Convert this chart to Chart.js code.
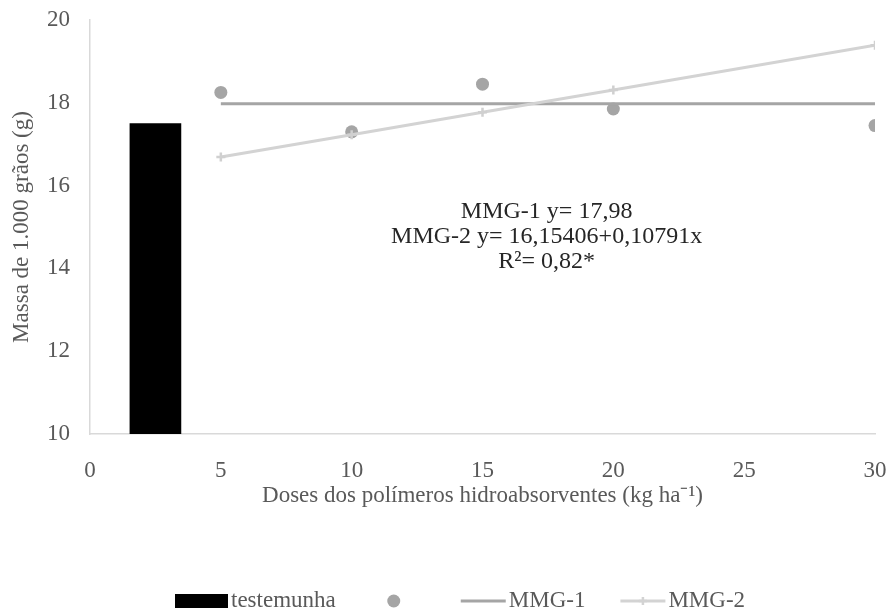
<!DOCTYPE html>
<html><head><meta charset="utf-8">
<style>html,body{margin:0;padding:0;background:#fff;}#wrap{width:888px;height:612px;}</style>
<script src="https://cdn.jsdelivr.net/npm/chart.js@4/dist/chart.umd.min.js"></script>
</head><body><div id="wrap"><canvas id="c" width="888" height="612"></canvas></div>
<script>
const xTicks = [0, 5, 10, 15, 20, 25, 30];
const yTicks = [10, 12, 14, 16, 18, 20];
const controlDose = [2.5];
const controlMass = [17.5];
const doses = [5, 10, 15, 20, 30];
const observedMass = [18.25, 17.3, 18.45, 17.85, 17.45];
const mmg1Dose = [5, 30];
const mmg1Mass = [17.98, 17.98];
const mmg2Dose = [5, 10, 15, 20, 30];
const mmg2Mass = [16.69, 17.23, 17.77, 18.31, 19.39];
const seriesLabels = ['testemunha', '', 'MMG-1', 'MMG-2'];
const equationLines = ['MMG-1 y= 17,98', 'MMG-2 y= 16,15406+0,10791x', 'R²= 0,82*'];
const xTitle = 'Doses dos polímeros hidroabsorventes (kg ha⁻¹)';
const yTitle = 'Massa de 1.000 grãos (g)';

const FONT = "'Liberation Serif', 'Times New Roman', serif";
const TEXT = '#595959';
const pts = (xs, ys) => xs.map((x, i) => ({x: x, y: ys[i]}));

const equationPlugin = {
  id: 'equation',
  afterDatasetsDraw(chart) {
    const ctx = chart.ctx, xs = chart.scales.x, ys = chart.scales.y;
    const cx = xs.getPixelForValue(17.45);
    const cy = ys.getPixelForValue(15.36);
    ctx.save();
    ctx.font = '24px ' + FONT;
    ctx.fillStyle = '#262626';
    ctx.textAlign = 'center';
    ctx.textBaseline = 'middle';
    equationLines.forEach((t, i) => ctx.fillText(t, cx, cy + i * 25));
    ctx.restore();
  }
};

const legendPlugin = {
  id: 'customLegend',
  afterDraw(chart) {
    const ctx = chart.ctx, ds = chart.data.datasets;
    const cy = 601;
    let x = 175;
    ctx.save();
    ctx.font = '23px ' + FONT;
    ctx.textBaseline = 'middle';
    ctx.textAlign = 'left';
    ctx.fillStyle = ds[0].backgroundColor;
    ctx.fillRect(x, cy - 7, 53, 14);
    x += 56;
    ctx.fillStyle = TEXT;
    ctx.fillText(ds[0].label, x, cy);
    x += ctx.measureText(ds[0].label).width + 58;
    ctx.fillStyle = ds[1].backgroundColor;
    ctx.beginPath(); ctx.arc(x, cy, 6.5, 0, Math.PI * 2); ctx.fill();
    x += 67;
    ctx.strokeStyle = ds[2].borderColor; ctx.lineWidth = 3;
    ctx.beginPath(); ctx.moveTo(x, cy); ctx.lineTo(x + 45, cy); ctx.stroke();
    x += 48;
    ctx.fillStyle = TEXT;
    ctx.fillText(ds[2].label, x, cy);
    x += ctx.measureText(ds[2].label).width + 35;
    ctx.strokeStyle = ds[3].borderColor; ctx.lineWidth = 3;
    ctx.beginPath(); ctx.moveTo(x, cy); ctx.lineTo(x + 45, cy); ctx.stroke();
    ctx.lineWidth = 2.5;
    ctx.beginPath();
    ctx.moveTo(x + 22.5 - 4, cy); ctx.lineTo(x + 22.5 + 4, cy);
    ctx.moveTo(x + 22.5, cy - 4); ctx.lineTo(x + 22.5, cy + 4);
    ctx.stroke();
    x += 48;
    ctx.fillStyle = TEXT;
    ctx.fillText(ds[3].label, x, cy);
    ctx.restore();
  }
};

new Chart(document.getElementById('c'), {
  type: 'bar',
  data: {
    datasets: [
      { type: 'bar', label: seriesLabels[0], data: pts(controlDose, controlMass),
        backgroundColor: '#000000', borderWidth: 0, barThickness: 51, order: 4 },
      { type: 'scatter', label: seriesLabels[1], data: pts(doses, observedMass),
        backgroundColor: '#a5a5a5', borderColor: '#a5a5a5', pointRadius: 6.5, borderWidth: 0, order: 3 },
      { type: 'line', label: seriesLabels[2], data: pts(mmg1Dose, mmg1Mass),
        borderColor: '#a5a5a5', backgroundColor: '#a5a5a5', borderWidth: 3, pointRadius: 0, fill: false, order: 2 },
      { type: 'line', label: seriesLabels[3], data: pts(mmg2Dose, mmg2Mass),
        borderColor: '#d3d3d3', backgroundColor: '#d3d3d3', borderWidth: 3, pointStyle: 'cross',
        pointRadius: 4.5, pointBorderWidth: 2.5, pointBorderColor: '#d0d0d0', fill: false, order: 1 }
    ]
  },
  options: {
    responsive: false,
    animation: false,
    devicePixelRatio: 1,
    layout: { padding: { top: 20, right: 13, left: 0, bottom: 88 } },
    plugins: { legend: { display: false }, tooltip: { enabled: false } },
    scales: {
      x: {
        type: 'linear', offset: false, min: xTicks[0], max: xTicks[xTicks.length - 1],
        afterBuildTicks: s => { s.ticks = xTicks.map(v => ({value: v})); },
        afterFit: s => { s.height = 90; s.paddingLeft = 0; s.paddingRight = 0; },
        grid: { display: false, offset: false },
        border: { display: true, color: '#d9d9d9', width: 1.5 },
        ticks: { padding: 15, color: TEXT, font: { family: FONT, size: 23 }, maxRotation: 0 },
        title: { display: true, text: xTitle, color: TEXT, font: { family: FONT, size: 23 }, padding: { top: 0, bottom: 14 } }
      },
      y: {
        type: 'linear', min: yTicks[0], max: yTicks[yTicks.length - 1],
        afterBuildTicks: s => { s.ticks = yTicks.map(v => ({value: v})); },
        afterFit: s => { s.width = 90; s.paddingTop = 0; s.paddingBottom = 0; },
        grid: { display: false },
        border: { display: true, color: '#d9d9d9', width: 1.5 },
        ticks: { padding: 12, color: TEXT, font: { family: FONT, size: 23 } },
        title: { display: true, text: yTitle, color: TEXT, font: { family: FONT, size: 23 }, padding: { top: 8, bottom: 0 } }
      }
    }
  },
  plugins: [equationPlugin, legendPlugin]
});
</script>
</body></html>
